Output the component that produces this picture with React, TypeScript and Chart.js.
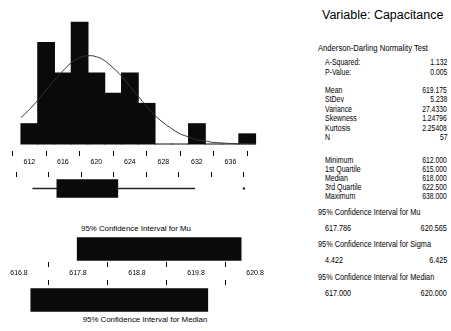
import React, { useEffect, useRef } from "react";
import { Chart, registerables } from "chart.js";

Chart.register(...registerables);

const FONT = "'Liberation Sans', Arial, Helvetica, sans-serif";

// ---------- data ----------
const binCenters = [612, 614, 616, 618, 620, 622, 624, 626, 628, 630, 632, 634, 636, 638];
const binCounts = [2, 10, 7, 12, 7, 5, 7, 4, 0, 0, 2, 0, 0, 1];
const curveX = [611, 612, 613, 614, 615, 616, 617, 618, 619, 620, 621, 622, 623, 624, 625, 626, 627, 628, 629, 630, 631, 632, 633, 634, 635, 636, 637, 638, 639];
const curveY = [2.6, 3.4, 4.3, 5.3, 6.3, 7.2, 8.0, 8.5, 8.7, 8.6, 8.2, 7.5, 6.7, 5.7, 4.7, 3.7, 2.8, 2.1, 1.5, 1.0, 0.7, 0.4, 0.3, 0.15, 0.1, 0.05, 0.03, 0.02, 0.01];
const histTicks = [612, 616, 620, 624, 628, 632, 636];
const boxRange = [615, 622.5];
const whiskerRange = [612, 632];
const outliers = [638];
const ciTicks = [616.8, 617.8, 618.8, 619.8, 620.8];
const muInterval = [617.786, 620.565];
const medianInterval = [617.0, 620.0];

const titleText = "Variable: Capacitance";
const adTitle = "Anderson-Darling Normality Test";
const adLabels = ["A-Squared:", "P-Value:"];
const adValues = ["1.132", "0.005"];
const descLabels = ["Mean", "StDev", "Variance", "Skewness", "Kurtosis", "N"];
const descValues = ["619.175", "5.238", "27.4330", "1.24796", "2.25408", "57"];
const quantLabels = ["Minimum", "1st Quartile", "Median", "3rd Quartile", "Maximum"];
const quantValues = ["612.000", "615.000", "618.000", "622.500", "638.000"];
const ciTitles = ["95% Confidence Interval for Mu", "95% Confidence Interval for Sigma", "95% Confidence Interval for Median"];
const ciLows = ["617.786", "4.422", "617.000"];
const ciHighs = ["620.565", "6.425", "620.000"];

// ---------- layout ----------
const LEFT_W = 270;
const HX_MIN = 608.5;
const HX_MAX = 640.72;
const CX_MIN = 616.478;
const CX_MAX = 621.054;

const baseOpts: any = {
  responsive: false,
  animation: false,
  devicePixelRatio: 1,
  events: [],
  layout: { padding: 0 },
  plugins: { legend: { display: false }, tooltip: { enabled: false }, title: { display: false } },
};

function hAxis(min: number, max: number, ticks: number[], fmt: (v: number) => string, position: string, labels: boolean) {
  return {
    type: "linear",
    position,
    min,
    max,
    offset: false,
    afterBuildTicks: (a: any) => {
      a.ticks = ticks.map((v) => ({ value: v }));
    },
    afterFit: (a: any) => {
      a.height = labels ? 16 : 5;
    },
    grid: { display: true, drawOnChartArea: false, drawTicks: true, tickLength: 5, color: "#000", lineWidth: 1 },
    border: { display: false },
    ticks: {
      display: labels,
      padding: 2,
      color: "#000",
      font: { family: FONT, size: 7 },
      maxRotation: 0,
      minRotation: 0,
      autoSkip: false,
      callback: (v: any) => fmt(Number(v)),
    },
  };
}

function ChartBox({ left, top, width, height, make }: any) {
  const ref = useRef<HTMLCanvasElement>(null);
  useEffect(() => {
    const chart = new Chart(ref.current as HTMLCanvasElement, make());
    return () => chart.destroy();
  }, []);
  return (
    <div style={{ position: "absolute", left, top, width, height }}>
      <canvas ref={ref} width={width} height={height} style={{ display: "block", width, height }} />
    </div>
  );
}

function Txt({ x, y, size = 8.5, anchor = "left", sx = 0.82, children }: any) {
  const style: any = {
    position: "absolute",
    top: y - size * 0.6,
    whiteSpace: "nowrap",
    fontSize: size,
    lineHeight: `${size * 1.2}px`,
    fontFamily: FONT,
    color: "#000",
  };
  if (anchor === "left") {
    style.left = x;
    style.transform = `scaleX(${sx})`;
    style.transformOrigin = "left center";
  } else if (anchor === "right") {
    style.right = 451 - x;
    style.transform = `scaleX(${sx})`;
    style.transformOrigin = "right center";
  } else {
    style.left = x;
    style.transform = `translateX(-50%) scaleX(${sx})`;
    style.transformOrigin = "center center";
  }
  return <div style={style}>{children}</div>;
}

const histConfig = () => ({
  type: "bar",
  data: {
    datasets: [
      {
        type: "line",
        data: curveX.map((x, i) => ({ x, y: curveY[i] })),
        borderColor: "#333",
        borderWidth: 1,
        pointRadius: 0,
        tension: 0.4,
        fill: false,
        order: 0,
      },
      {
        type: "bar",
        data: binCenters.map((c, i) => ({ x: c, y: binCounts[i] })),
        backgroundColor: "#0a0a0a",
        borderWidth: 0,
        barPercentage: 1,
        categoryPercentage: 1,
        inflateAmount: 0.5,
        order: 1,
      },
    ],
  },
  options: {
    ...baseOpts,
    scales: {
      x: hAxis(HX_MIN, HX_MAX, histTicks, (v) => String(v), "bottom", true),
      y: { type: "linear", display: false, min: -0.69, max: 14.19 },
    },
  },
});

const boxConfig = () => ({
  type: "bar",
  data: {
    datasets: [
      {
        type: "bar",
        indexAxis: "y",
        data: [{ x: boxRange, y: 0 }],
        backgroundColor: "#0a0a0a",
        borderWidth: 0,
        barThickness: 18,
        order: 0,
      },
      {
        type: "line",
        data: whiskerRange.map((x) => ({ x, y: 0 })),
        borderColor: "#222",
        borderWidth: 1.3,
        pointRadius: 0,
        order: 1,
      },
      {
        type: "line",
        showLine: false,
        data: outliers.map((x) => ({ x, y: 0 })),
        pointRadius: 1.2,
        pointBackgroundColor: "#222",
        pointBorderWidth: 0,
        order: 2,
      },
    ],
  },
  options: {
    ...baseOpts,
    scales: {
      x: hAxis(HX_MIN, HX_MAX, histTicks, (v) => String(v), "top", false),
      y: { type: "linear", display: false, min: -1, max: 1 },
    },
  },
});

const ciConfig = (interval: number[], position: string, labels: boolean) => () => ({
  type: "bar",
  data: {
    datasets: [
      {
        type: "bar",
        indexAxis: "y",
        data: [{ x: interval, y: 0 }],
        backgroundColor: "#0a0a0a",
        borderWidth: 0,
        barThickness: 23,
      },
    ],
  },
  options: {
    ...baseOpts,
    scales: {
      x: hAxis(CX_MIN, CX_MAX, ciTicks, (v) => v.toFixed(1), position, labels),
      y: { type: "linear", display: false, min: -1, max: 1 },
    },
  },
});

export default function App() {
  const RX = 325;
  const RR = 447;
  const adY = [62, 72];
  const descY0 = 90;
  const descStep = 9.4;
  const quantY0 = 160;
  const quantStep = 9;
  const ciTitleY0 = 212;
  const ciValY0 = 228;
  const ciStep = 32.5;
  return (
    <div style={{ position: "absolute", left: 0, top: 0, width: 451, height: 331, background: "#fff", overflow: "hidden" }}>
      <ChartBox left={0} top={0} width={LEFT_W} height={167} make={histConfig} />
      <ChartBox left={0} top={172} width={LEFT_W} height={32} make={boxConfig} />
      <Txt x={136} y={229} anchor="center" size={8} sx={0.98}>{ciTitles[0]}</Txt>
      <ChartBox left={0} top={236} width={LEFT_W} height={42} make={ciConfig(muInterval, "bottom", true)} />
      <ChartBox left={0} top={280} width={LEFT_W} height={35} make={ciConfig(medianInterval, "top", false)} />
      <Txt x={145} y={320} anchor="center" size={8} sx={0.98}>{ciTitles[2]}</Txt>

      <Txt x={322} y={15} size={12.5} sx={1}>{titleText}</Txt>
      <Txt x={318} y={48} sx={0.9}>{adTitle}</Txt>
      {adLabels.map((l, i) => (
        <React.Fragment key={"ad" + i}>
          <Txt x={RX} y={adY[i]}>{l}</Txt>
          <Txt x={RR} y={adY[i]} anchor="right" sx={0.8}>{adValues[i]}</Txt>
        </React.Fragment>
      ))}
      {descLabels.map((l, i) => (
        <React.Fragment key={"d" + i}>
          <Txt x={RX} y={descY0 + i * descStep}>{l}</Txt>
          <Txt x={RR} y={descY0 + i * descStep} anchor="right" sx={0.8}>{descValues[i]}</Txt>
        </React.Fragment>
      ))}
      {quantLabels.map((l, i) => (
        <React.Fragment key={"q" + i}>
          <Txt x={RX} y={quantY0 + i * quantStep}>{l}</Txt>
          <Txt x={RR} y={quantY0 + i * quantStep} anchor="right" sx={0.8}>{quantValues[i]}</Txt>
        </React.Fragment>
      ))}
      {ciTitles.map((t, i) => (
        <React.Fragment key={"c" + i}>
          <Txt x={318} y={ciTitleY0 + i * ciStep} sx={0.86}>{t}</Txt>
          <Txt x={RX} y={ciValY0 + i * ciStep} sx={0.85}>{ciLows[i]}</Txt>
          <Txt x={RR} y={ciValY0 + i * ciStep} anchor="right" sx={0.85}>{ciHighs[i]}</Txt>
        </React.Fragment>
      ))}
    </div>
  );
}
